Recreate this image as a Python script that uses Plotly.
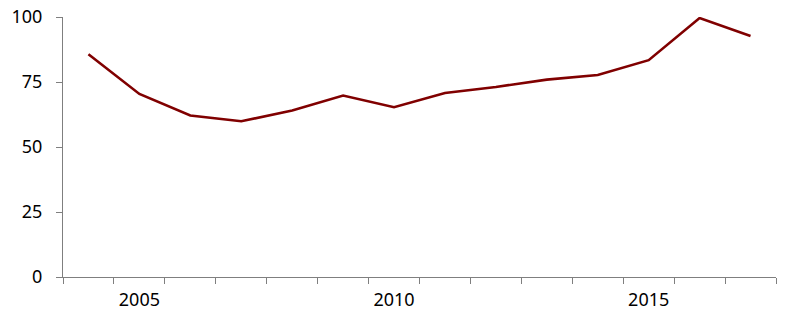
import plotly.graph_objects as go

years = [2004, 2005, 2006, 2007, 2008, 2009, 2010, 2011, 2012, 2013, 2014, 2015, 2016, 2017]
values = [85.7, 70.4, 62.1, 59.9, 64.0, 69.8, 65.3, 70.8, 73.1, 75.9, 77.7, 83.4, 99.6, 92.7]
x_tick_labels = ["2005", "2010", "2015"]
x_tick_vals = [2005, 2010, 2015]
y_tick_vals = [0, 25, 50, 75, 100]

fig = go.Figure()
fig.add_trace(go.Scatter(x=years, y=values, mode="lines",
                         line=dict(color="#800000", width=2.6)))

axis_color = "#7f7f7f"
fig.update_layout(
    width=800, height=314,
    margin=dict(l=63, r=24, t=17, b=37, autoexpand=False),
    paper_bgcolor="white", plot_bgcolor="white",
    showlegend=False,
    font=dict(family="Noto Sans", size=18, color="black"),
    xaxis=dict(
        range=[2003.5, 2017.5],
        tickvals=x_tick_vals, ticktext=x_tick_labels,
        ticks="", showgrid=False, zeroline=False,
        showline=True, linecolor=axis_color, linewidth=1,
        ticklabelstandoff=6, automargin=False,
        minor=dict(tickvals=[y + 0.5 for y in range(2003, 2018)],
                   ticks="outside", ticklen=6, tickcolor=axis_color,
                   tickwidth=1, showgrid=False),
    ),
    yaxis=dict(
        range=[0, 100],
        tickvals=y_tick_vals,
        ticks="outside", ticklen=6, tickcolor=axis_color, tickwidth=1,
        showgrid=False, zeroline=False,
        showline=True, linecolor=axis_color, linewidth=1,
        ticklabelstandoff=10, automargin=False,
    ),
)

fig.write_html("out.html")
